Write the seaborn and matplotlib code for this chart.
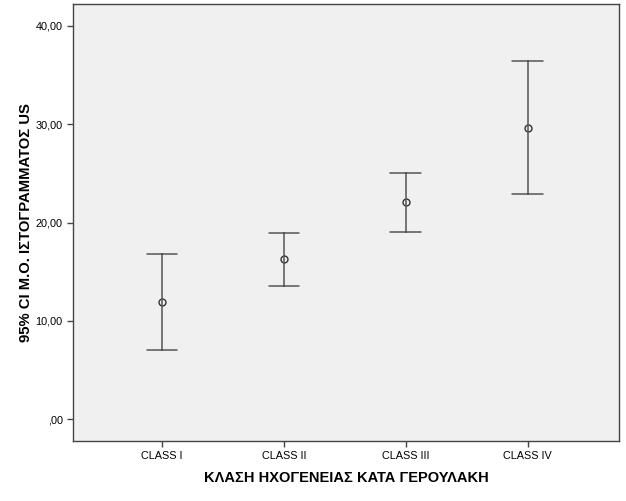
import pandas as pd
import seaborn as sns
import matplotlib.pyplot as plt
from matplotlib.ticker import FuncFormatter

classes = ['CLASS I', 'CLASS II', 'CLASS III', 'CLASS IV']
ci_lower = [7.09, 13.60, 19.09, 22.90]
means = [11.97, 16.28, 22.09, 29.65]
ci_upper = [16.86, 18.96, 25.00, 36.40]

rows = []
for c, lo, m, hi in zip(classes, ci_lower, means, ci_upper):
    for v in (lo, m, hi):
        rows.append({'class': c, 'value': v})
df = pd.DataFrame(rows)

sns.set_style('ticks')
plt.rcParams['font.family'] = ['Liberation Sans', 'DejaVu Sans']

fig = plt.figure(figsize=(6.26, 5.01), dpi=100)
ax = fig.add_axes([0.1166, 0.1198, 0.8722, 0.8716])
ax.set_facecolor('#f0f0f0')

# median of (lower, mean, upper) is the mean; the interval spans lower..upper
sns.pointplot(data=df, x='class', y='value', order=classes,
              estimator='median', errorbar=lambda v: (v.min(), v.max()),
              linestyle='none', markers='o', color='#333333',
              capsize=0.25, err_kws={'linewidth': 1.1, 'color': '#555555'},
              markersize=5, markerfacecolor='none', markeredgewidth=1.0, ax=ax)

ax.set_xlim(-0.73, 3.75)
ax.set_ylim(-2.2, 42.2)
ax.set_yticks([0, 10, 20, 30, 40])
ax.yaxis.set_major_formatter(FuncFormatter(
    lambda v, p: ',00' if v == 0 else f'{v:.2f}'.replace('.', ',')))

for s in ax.spines.values():
    s.set_color('#444444')
    s.set_linewidth(1.0)
ax.tick_params(axis='both', length=4, width=1, color='#444444',
               labelsize=7.8, labelcolor='black')

ax.set_xlabel('ΚΛΑΣΗ ΗΧΟΓΕΝΕΙΑΣ ΚΑΤΑ ΓΕΡΟΥΛΑΚΗ', fontsize=10.5,
              fontweight='bold', labelpad=7, color='black')
ax.set_ylabel('95% CI Μ.Ο. ΙΣΤΟΓΡΑΜΜΑΤΟΣ US', fontsize=10.7,
              fontweight='bold', labelpad=1.5, color='black')

fig.savefig('out.png', dpi=100)
